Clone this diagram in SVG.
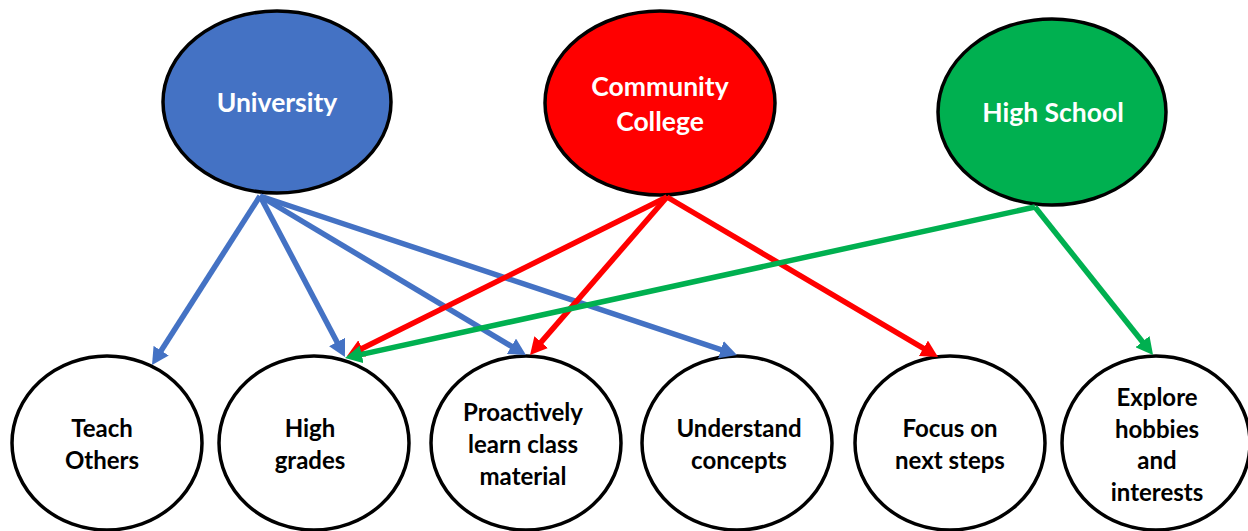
<svg xmlns="http://www.w3.org/2000/svg" width="1248" height="531" viewBox="0 0 1248 531">
<style>
.top{stroke:#000;stroke-width:3.5}
.bot{fill:#fff;stroke:#000;stroke-width:3.5}
text{font-family:Lato,"Liberation Sans",sans-serif;font-weight:bold;text-anchor:middle}
.tt{fill:#fff;font-size:26.5px}
.bt{fill:#000;font-size:24px}
.c{fill:none;stroke-width:5.5}
.b{stroke:#4472C4}.r{stroke:#FF0000}.g{stroke:#00B050}
</style>
<defs>
<marker id="ab" markerUnits="userSpaceOnUse" viewBox="0 -9 17 18" markerWidth="17" markerHeight="18" refX="7" refY="0" orient="auto"><path d="M0,-9 L17,0 L0,9 z" fill="#4472C4"/></marker>
<marker id="ar" markerUnits="userSpaceOnUse" viewBox="0 -9 17 18" markerWidth="17" markerHeight="18" refX="7" refY="0" orient="auto"><path d="M0,-9 L17,0 L0,9 z" fill="#FF0000"/></marker>
<marker id="ag" markerUnits="userSpaceOnUse" viewBox="0 -9 17 18" markerWidth="17" markerHeight="18" refX="7" refY="0" orient="auto"><path d="M0,-9 L17,0 L0,9 z" fill="#00B050"/></marker>
</defs>
<rect width="1248" height="531" fill="#fff"/>
<g id="university"><ellipse class="top" cx="277" cy="102" rx="114" ry="91" fill="#4472C4"/><text class="tt" x="277" y="112">University</text></g>
<g id="community-college"><ellipse class="top" cx="660" cy="103" rx="115" ry="92" fill="#FF0000"/><text class="tt" x="660" y="96">Community</text><text class="tt" x="660" y="131">College</text></g>
<g id="high-school"><ellipse class="top" cx="1052" cy="112" rx="114" ry="93" fill="#00B050"/><text class="tt" x="1053" y="122">High School</text></g>
<g id="teach-others"><ellipse class="bot" cx="107" cy="443" rx="95" ry="87"/><text class="bt" x="102" y="437">Teach</text><text class="bt" x="102" y="469">Others</text></g>
<g id="high-grades"><ellipse class="bot" cx="314" cy="443" rx="95" ry="87"/><text class="bt" x="310" y="437">High</text><text class="bt" x="310" y="469">grades</text></g>
<g id="proactively"><ellipse class="bot" cx="526" cy="443" rx="95" ry="87"/><text class="bt" x="523" y="421">Proactively</text><text class="bt" x="523" y="453">learn class</text><text class="bt" x="523" y="485">material</text></g>
<g id="understand"><ellipse class="bot" cx="737" cy="443" rx="95" ry="87"/><text class="bt" x="739" y="437">Understand</text><text class="bt" x="739" y="469">concepts</text></g>
<g id="focus"><ellipse class="bot" cx="950" cy="443" rx="95" ry="87"/><text class="bt" x="950" y="437">Focus on</text><text class="bt" x="950" y="469">next steps</text></g>
<g id="explore"><ellipse class="bot" cx="1156" cy="443" rx="94" ry="87"/><text class="bt" x="1157" y="406">Explore</text><text class="bt" x="1157" y="438">hobbies</text><text class="bt" x="1157" y="469">and</text><text class="bt" x="1157" y="501">interests</text></g>
<g id="connectors">
<line class="c b" x1="260" y1="196" x2="157.4" y2="356.6" marker-end="url(#ab)"/>
<line class="c b" x1="260" y1="196" x2="340.3" y2="348.2" marker-end="url(#ab)"/>
<line class="c b" x1="260" y1="196" x2="517.4" y2="349.9" marker-end="url(#ab)"/>
<line class="c b" x1="260" y1="196" x2="727.5" y2="351.8" marker-end="url(#ab)"/>
<line class="c r" x1="667" y1="197" x2="356.0" y2="351.5" marker-end="url(#ar)"/>
<line class="c r" x1="667" y1="197" x2="536.6" y2="347.4" marker-end="url(#ar)"/>
<line class="c r" x1="667" y1="197" x2="929.4" y2="351.9" marker-end="url(#ar)"/>
<line class="c g" x1="1035" y1="207" x2="354.8" y2="355.9" marker-end="url(#ag)"/>
<line class="c g" x1="1035" y1="207" x2="1146.8" y2="347.2" marker-end="url(#ag)"/>
</g>
</svg>
